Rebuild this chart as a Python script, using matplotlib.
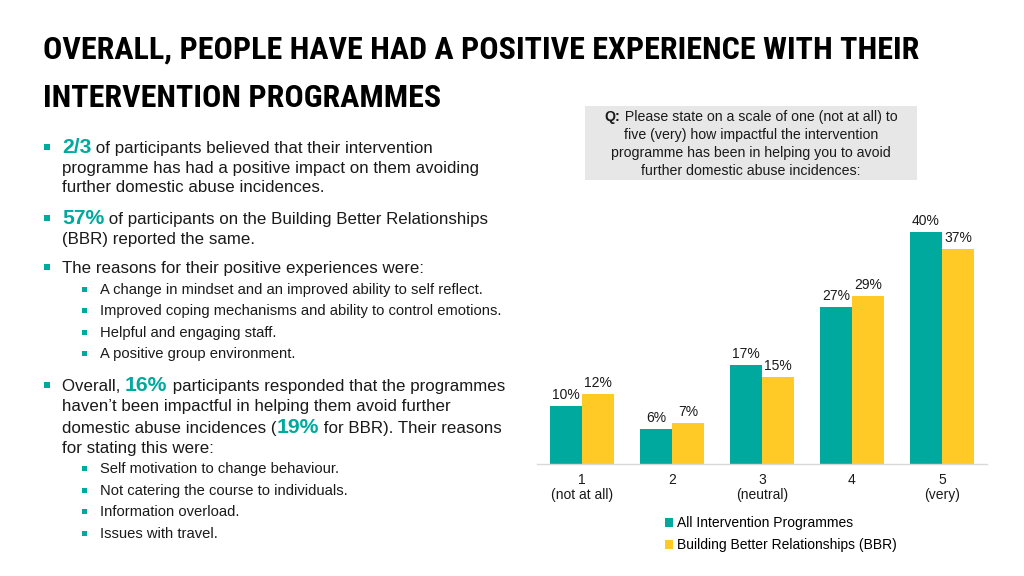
import matplotlib
matplotlib.use("Agg")
import matplotlib.pyplot as plt
from matplotlib.patches import Rectangle
from matplotlib import font_manager
import numpy as np

# ---------------- data ----------------
categories = ["1\n(not at all)", "2", "3\n(neutral)", "4", "5\n(very)"]
all_programmes = [10, 6, 17, 27, 40]
bbr = [12, 7, 15, 29, 37]
series_names = ["All Intervention Programmes", "Building Better Relationships (BBR)"]

title_lines = ["OVERALL, PEOPLE HAVE HAD A POSITIVE EXPERIENCE WITH THEIR",
               "INTERVENTION PROGRAMMES"]
question_first = ("Q:", " Please state on a scale of one (not at all) to")
question_rest = ["five (very) how impactful the intervention",
                 "programme has been in helping you to avoid",
                 "further domestic abuse incidences:"]

TEAL = "#00A99D"
YELLOW = "#FFC926"
TXT = "#1a1a1a"

W, H = 1024, 576
fig = plt.figure(figsize=(W / 100, H / 100), dpi=100)
fig.patch.set_facecolor("white")
renderer = fig.canvas.get_renderer()

BODY = ["Liberation Sans", "DejaVu Sans"]

installed = {f.name for f in font_manager.fontManager.ttflist}
title_family = [f for f in ["Roboto Condensed", "Liberation Sans Narrow", "DejaVu Sans Condensed",
                            "Open Sans Condensed", "Roboto", "DejaVu Sans"] if f in installed][:1] + ["DejaVu Sans"]


def fx(x):
    return x / W


def fy(y):
    return 1 - y / H


def rich_line(x, y, pieces, size, ha="left"):
    """pieces: list of (text, color, bold, sizefactor)"""
    texts = []
    total = 0
    for txt, col, bold, sf in pieces:
        t = fig.text(0, 0, txt, color=col, fontsize=size * sf,
                     fontweight="bold" if bold else "normal",
                     family=BODY, va="baseline", ha="left")
        w = t.get_window_extent(renderer).width
        texts.append((t, w))
        total += w
    cx = x - total / 2 if ha == "center" else x
    for t, w in texts:
        t.set_position((fx(cx), fy(y)))
        cx += w


def bullet(x, y, s):
    fig.patches.append(Rectangle((fx(x), fy(y + s / 2)), s / W, s / H,
                                 transform=fig.transFigure, facecolor=TEAL,
                                 edgecolor="none"))


# ---------------- title ----------------
probe = fig.text(0, 0, title_lines[0], fontsize=30, fontweight="bold",
                 family=title_family, va="baseline")
tw = probe.get_window_extent(renderer).width
probe.remove()
tsize = 30 * 875 / tw
for i, line in enumerate(title_lines):
    fig.text(fx(43), fy(59 + i * 48), line, fontsize=tsize, fontweight="bold",
             family=title_family, color="black", va="baseline", ha="left")

# ---------------- bullets ----------------
MS = 12.2   # main font size
SS = 10.6   # sub font size
HF = 1.25   # highlight factor

main_lines = [
    (153, [("2/3", TEAL, True, HF), (" of participants believed that their intervention", TXT, False, 1)], True),
    (173, [("programme has had a positive impact on them avoiding", TXT, False, 1)], False),
    (192, [("further domestic abuse incidences.", TXT, False, 1)], False),
    (224, [("57%", TEAL, True, HF), (" of participants on the Building Better Relationships", TXT, False, 1)], True),
    (244, [("(BBR) reported the same.", TXT, False, 1)], False),
    (273, [("The reasons for their positive experiences were:", TXT, False, 1)], True),
    (391, [("Overall, ", TXT, False, 1), ("16%", TEAL, True, HF),
           (" participants responded that the programmes", TXT, False, 1)], True),
    (411, [("haven\u2019t been impactful in helping them avoid further", TXT, False, 1)], False),
    (433, [("domestic abuse incidences (", TXT, False, 1), ("19%", TEAL, True, HF),
           (" for BBR). Their reasons", TXT, False, 1)], False),
    (453, [("for stating this were:", TXT, False, 1)], False),
]
for y, pieces, has_bullet in main_lines:
    rich_line(62, y, pieces, MS)
    if has_bullet:
        bullet(44, y - 6, 6)

sub_lines = [
    (294, "A change in mindset and an improved ability to self reflect."),
    (315, "Improved coping mechanisms and ability to control emotions."),
    (337, "Helpful and engaging staff."),
    (358, "A positive group environment."),
    (473, "Self motivation to change behaviour."),
    (495, "Not catering the course to individuals."),
    (516, "Information overload."),
    (538, "Issues with travel."),
]
for y, txt in sub_lines:
    rich_line(100, y, [(txt, TXT, False, 1)], SS)
    bullet(82, y - 5, 5)

# ---------------- question box ----------------
fig.patches.append(Rectangle((fx(585), fy(180)), 332 / W, 74 / H,
                             transform=fig.transFigure, facecolor="#E7E7E7",
                             edgecolor="none"))
QS = 10.2
rich_line(751, 121, [(question_first[0], TXT, True, 1), (question_first[1], TXT, False, 1)], QS, ha="center")
for i, line in enumerate(question_rest):
    rich_line(751, 139 + 18 * i, [(line, TXT, False, 1)], QS, ha="center")

# ---------------- chart ----------------
left, right, base = 537, 987, 464
ymax = 45
ppu = 5.8
top = base - ymax * ppu
ax = fig.add_axes([fx(left), fy(base), (right - left) / W, (base - top) / H])
ax.set_facecolor("none")
x = np.arange(len(categories))
bw = 0.356
b1 = ax.bar(x - bw / 2, all_programmes, bw, color=TEAL, label=series_names[0])
b2 = ax.bar(x + bw / 2, bbr, bw, color=YELLOW, label=series_names[1])
for bars, vals in ((b1, all_programmes), (b2, bbr)):
    for r, v in zip(bars, vals):
        ax.annotate(f"{v}%", (r.get_x() + r.get_width() / 2, v),
                    xytext=(0, 3), textcoords="offset points",
                    ha="center", va="bottom", fontsize=10, family=BODY, color=TXT)
ax.set_xlim(-0.5, len(categories) - 0.5)
ax.set_ylim(0, ymax)
ax.set_yticks([])
ax.set_xticks(x)
ax.set_xticklabels(categories, fontsize=10, family=BODY, color=TXT, linespacing=1.1)
ax.tick_params(axis="x", length=0, pad=6.5)
for s in ("top", "right", "left"):
    ax.spines[s].set_visible(False)
ax.spines["bottom"].set_color("#D9D9D9")
ax.spines["bottom"].set_linewidth(1)

leg = fig.legend(handles=[b1, b2], labels=series_names,
                 loc="upper left", bbox_to_anchor=(fx(665), fy(516)),
                 frameon=False, prop={"family": BODY, "size": 10},
                 handlelength=0.6, handleheight=0.6, handletextpad=0.25,
                 labelspacing=0.6, borderaxespad=0, borderpad=0)

fig.savefig("out.png", dpi=100, facecolor="white")
